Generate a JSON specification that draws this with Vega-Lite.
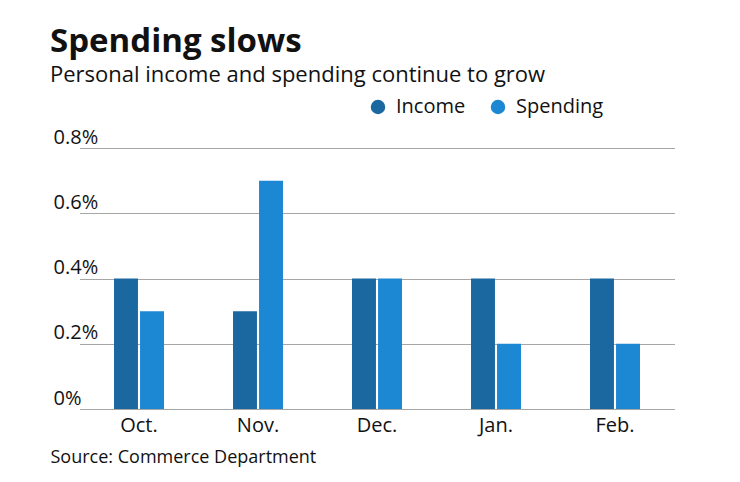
{
  "$schema": "https://vega.github.io/schema/vega-lite/v6.json",
  "width": 630,
  "height": 261,
  "autosize": "none",
  "padding": {"left": 50, "top": 148, "right": 60, "bottom": 73},
  "background": "white",
  "title": {
    "text": "Spending slows",
    "subtitle": "Personal income and spending continue to grow",
    "anchor": "start",
    "frame": "group",
    "font": "Open Sans",
    "fontSize": 33,
    "fontWeight": "bold",
    "color": "#111111",
    "subtitleFont": "Open Sans",
    "subtitleFontSize": 22,
    "subtitleColor": "#111111",
    "subtitlePadding": 6,
    "offset": 11
  },
  "data": {
    "values": [
      {"month": "Oct.", "series": "Income", "value": 0.4},
      {"month": "Oct.", "series": "Spending", "value": 0.3},
      {"month": "Nov.", "series": "Income", "value": 0.3},
      {"month": "Nov.", "series": "Spending", "value": 0.7},
      {"month": "Dec.", "series": "Income", "value": 0.4},
      {"month": "Dec.", "series": "Spending", "value": 0.4},
      {"month": "Jan.", "series": "Income", "value": 0.4},
      {"month": "Jan.", "series": "Spending", "value": 0.2},
      {"month": "Feb.", "series": "Income", "value": 0.4},
      {"month": "Feb.", "series": "Spending", "value": 0.2}
    ]
  },
  "mark": {"type": "bar"},
  "encoding": {
    "x": {
      "field": "month",
      "type": "nominal",
      "sort": ["Oct.", "Nov.", "Dec.", "Jan.", "Feb."],
      "scale": {"range": [29.5, 624.5], "paddingInner": 0.58, "paddingOuter": 0.29},
      "axis": {
        "title": "Source: Commerce Department",
        "titleFont": "Open Sans",
        "titleFontSize": 18,
        "titleFontWeight": "normal",
        "titleColor": "#111111",
        "titleAnchor": "start",
        "titleAlign": "left",
        "titleX": 0,
        "titlePadding": 13,
        "labelFont": "Open Sans",
        "labelFontSize": 20,
        "labelColor": "#111111",
        "labelAngle": 0,
        "labelPadding": 6,
        "ticks": false,
        "domain": false,
        "grid": false
      }
    },
    "xOffset": {
      "field": "series",
      "type": "nominal",
      "scale": {"paddingInner": 0.08, "paddingOuter": 0}
    },
    "y": {
      "field": "value",
      "type": "quantitative",
      "scale": {"domain": [0, 0.8]},
      "axis": {
        "title": null,
        "values": [0, 0.2, 0.4, 0.6, 0.8],
        "labelExpr": "datum.value == 0 ? '0%' : format(datum.value, '.1f') + '%'",
        "labelFont": "Open Sans",
        "labelFontSize": 20,
        "labelColor": "#111111",
        "labelAlign": "left",
        "labelBaseline": "bottom",
        "labelPadding": -3,
        "labelOffset": -1,
        "tickSize": 0,
        "ticks": false,
        "domain": false,
        "grid": true,
        "gridColor": "#a6a6a6",
        "gridWidth": 1,
        "gridOpacity": 1
      }
    },
    "color": {
      "field": "series",
      "type": "nominal",
      "scale": {"domain": ["Income", "Spending"], "range": ["#1b68a1", "#1c87d3"]},
      "legend": {
        "title": null,
        "orient": "none",
        "direction": "horizontal",
        "legendX": 318,
        "legendY": -51,
        "symbolType": "circle",
        "symbolSize": 210,
        "symbolOpacity": 1,
        "labelFont": "Open Sans",
        "labelFontSize": 20,
        "labelColor": "#111111",
        "labelOffset": 8,
        "columnPadding": 22
      }
    }
  },
  "config": {"view": {"stroke": null}}
}
